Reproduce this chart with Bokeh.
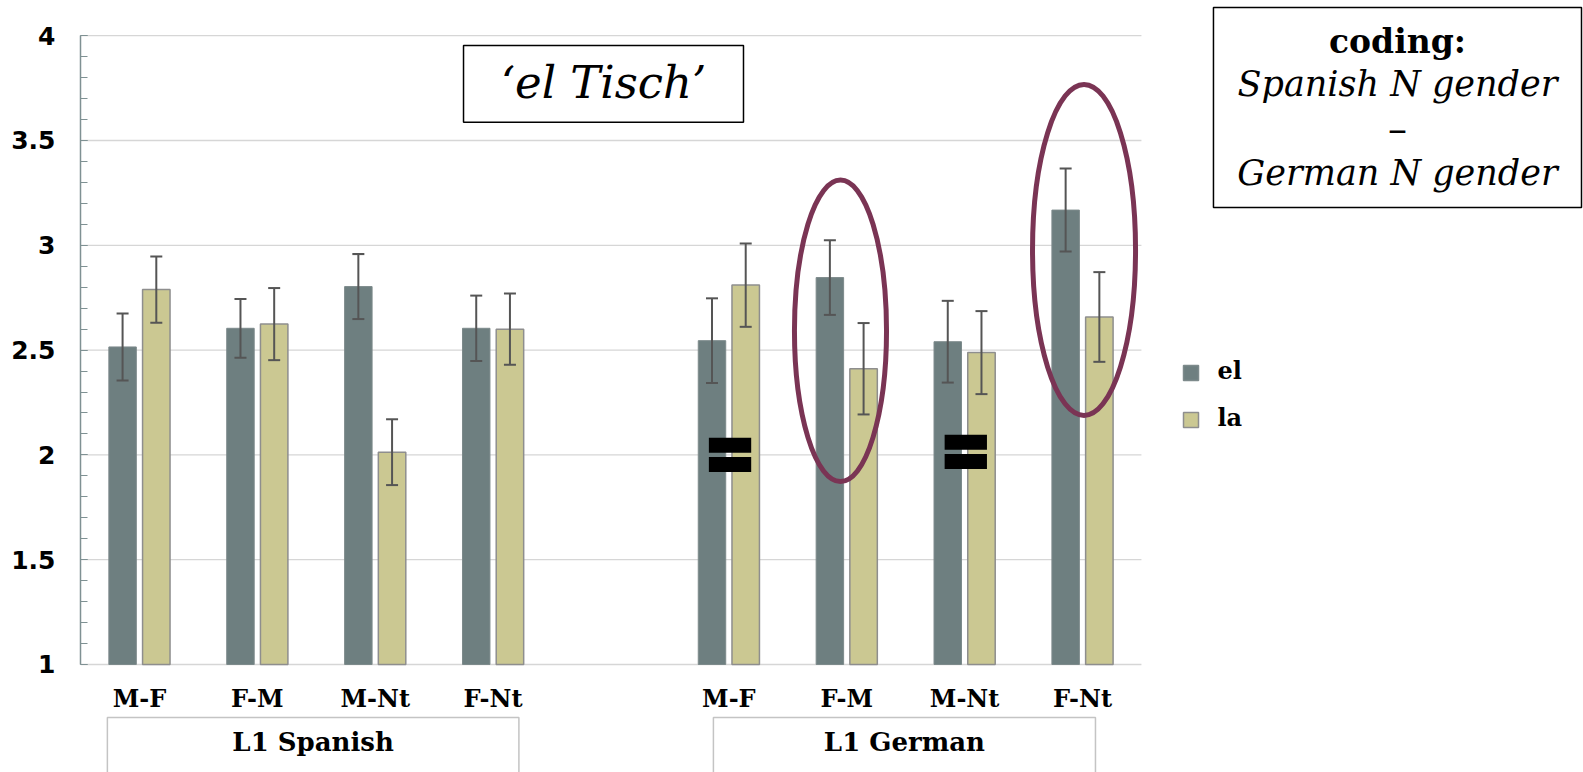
from bokeh.plotting import figure
from bokeh.models import (Range1d, SingleIntervalTicker, CustomJSTickFormatter,
                          ColumnDataSource, Whisker, TeeHead)
from bokeh.core.properties import value
from bokeh.embed import file_html
from bokeh.resources import INLINE

# ---------------- data ----------------
categories = ["M-F", "F-M", "M-Nt", "F-Nt"]
groups = ["L1 Spanish", "L1 German"]
group_start = [0, 5]          # category slot where each group starts
series = ["el", "la"]

el_means = [2.515, 2.604, 2.803, 2.604, 2.545, 2.846, 2.540, 3.168]
la_means = [2.789, 2.624, 2.013, 2.600, 2.810, 2.411, 2.488, 2.658]
el_se = [0.160, 0.140, 0.155, 0.156, 0.202, 0.178, 0.195, 0.198]
la_se = [0.158, 0.172, 0.157, 0.170, 0.199, 0.218, 0.198, 0.214]

y_min, y_max = 1, 4
title_text = "\u2018el Tisch\u2019"
coding_lines = ["coding:", "Spanish N gender", "\u2013", "German N gender"]

# "equal" marks: group index, category index, centre value
equal_marks = [(1, 0, 2.0), (1, 2, 2.014)]

# ---------------- styles ----------------
EL_COLOR = "#6e7f80"
LA_COLOR = "#cbc892"
ERR_COLOR = "#555555"
AXIS_COLOR = "#7f9193"
GRID_COLOR = "#d6d6d6"
CIRCLE_COLOR = "#7a3454"
SERIF = value("DejaVu Serif")

# positions of each bar pair (category slot centres)
pos = [g + i + 0.5 for g in group_start for i in range(len(categories))]
labels = categories * len(groups)
off = 0.143
bw = 0.233

p = figure(width=1583, height=772,
           x_range=Range1d(0, 12.750), y_range=Range1d(0.48473, 4.1679),
           x_axis_location=None, y_axis_location="left",
           output_backend="svg", toolbar_location=None,
           min_border_left=80, min_border_right=0, min_border_top=0, min_border_bottom=0)
p.outline_line_color = None
p.xgrid.visible = False
p.ygrid.visible = False
p.background_fill_color = "white"
p.border_fill_color = "white"

# y axis
yax = p.yaxis[0]
yax.ticker = SingleIntervalTicker(interval=0.5, num_minor_ticks=5)
yax.bounds = (y_min, y_max)
yax.formatter = CustomJSTickFormatter(code="return String(Math.round(tick*10)/10)")
yax.axis_line_color = AXIS_COLOR
yax.axis_line_width = 1.5
yax.major_tick_line_color = AXIS_COLOR
yax.minor_tick_line_color = AXIS_COLOR
yax.major_tick_in = 7
yax.major_tick_out = 0
yax.minor_tick_in = 7
yax.minor_tick_out = 0
yax.major_label_standoff = 25
yax.major_label_text_font = "DejaVu Sans"
yax.major_label_text_font_style = "bold"
yax.major_label_text_font_size = "25px"
yax.major_label_text_color = "black"

# horizontal gridlines (only over the chart area)
grid_vals = [y_min + 0.5 * k for k in range(int((y_max - y_min) / 0.5) + 1)]
n_slots = group_start[-1] + len(categories)
p.segment(x0=[0] * len(grid_vals), x1=[n_slots] * len(grid_vals), y0=grid_vals, y1=grid_vals,
          line_color=GRID_COLOR, line_width=1.3)

# bars
el_x = [x - off for x in pos]
la_x = [x + off for x in pos]
p.vbar(x=el_x, top=el_means, bottom=y_min, width=bw, fill_color=EL_COLOR,
       line_color="#7d8a8b", line_width=1)
p.vbar(x=la_x, top=la_means, bottom=y_min, width=bw, fill_color=LA_COLOR,
       line_color="#8e8e8e", line_width=1.5)

# error bars
for xs, m, se in [(el_x, el_means, el_se), (la_x, la_means, la_se)]:
    src = ColumnDataSource(dict(x=xs, upper=[a + b for a, b in zip(m, se)],
                                lower=[a - b for a, b in zip(m, se)]))
    w = Whisker(source=src, base="x", upper="upper", lower="lower",
                line_color=ERR_COLOR, line_width=2, level="annotation",
                upper_head=TeeHead(size=12, line_color=ERR_COLOR, line_width=2),
                lower_head=TeeHead(size=12, line_color=ERR_COLOR, line_width=2))
    p.add_layout(w)

# equal marks (two black bars each)
eq_x, eq_y = [], []
for gi, ci, cv in equal_marks:
    c = group_start[gi] + ci + 0.5
    for dy in (0.046, -0.046):
        eq_x.append(c + 0.01)
        eq_y.append(cv + dy)
p.rect(x=eq_x, y=eq_y, width=0.359, height=0.0716, fill_color="black", line_color=None)

# circled pairs
ell_x = [6.447, 8.513]
ell_y = [2.592, 2.978]
ell_w = [0.781, 0.874]
ell_h = [1.438, 1.579]
p.ellipse(x=ell_x, y=ell_y, width=ell_w, height=ell_h, fill_color=None,
          line_color=CIRCLE_COLOR, line_width=5, level="overlay")

# x category labels
p.text(x=pos, y=[0.838] * len(pos), text=labels, text_font=SERIF, text_font_style="bold",
       text_font_size="24px", text_align="center", text_baseline="middle", text_color="black")

# group boxes and labels
gb_left = [0.228, 5.369]
gb_right = [3.719, 8.610]
gb_top = 0.7471
gb_bot = 0.30
p.quad(left=gb_left, right=gb_right, top=[gb_top] * 2, bottom=[gb_bot] * 2,
       fill_color=None, line_color="#c4c4c4", line_width=1.5)
p.text(x=[(a + b) / 2 for a, b in zip(gb_left, gb_right)], y=[0.628] * 2, text=groups,
       text_font=SERIF, text_font_style="bold", text_font_size="26px",
       text_align="center", text_baseline="middle", text_color="black")

# title box
p.rect(x=[4.4367], y=[3.7703], width=[2.375], height=[0.366], fill_color=None,
       line_color="black", line_width=1.5)
p.text(x=[4.4367], y=[3.775], text=[title_text], text_font=SERIF, text_font_style="italic",
       text_font_size="45px", text_align="center", text_baseline="middle", text_color="black")

# coding box
cx = 11.172
p.rect(x=[cx], y=[3.6575], width=[3.122], height=[0.9542], fill_color=None,
       line_color="black", line_width=1.5)
p.text(x=[cx], y=[3.972], text=[coding_lines[0]], text_font=SERIF, text_font_style="bold",
       text_font_size="33px", text_align="center", text_baseline="middle", text_color="black")
p.text(x=[cx, cx], y=[3.768, 3.343], text=[coding_lines[1], coding_lines[3]], text_font=SERIF,
       text_font_style="italic", text_font_size="35px", text_align="center",
       text_baseline="middle", text_color="black")
p.text(x=[cx], y=[3.553], text=[coding_lines[2]], text_font=SERIF,
       text_font_style="normal", text_font_size="38px", text_align="center",
       text_baseline="middle", text_color="black")

# legend (manual)
leg_y = [2.3907, 2.1665]
p.scatter(x=[9.4205] * 2, y=leg_y, marker="square", size=15,
          fill_color=[EL_COLOR, LA_COLOR], line_color=["#7d8a8b", "#8e8e8e"], line_width=1.5)
p.text(x=[9.645] * 2, y=[v + 0.01 for v in leg_y], text=series, text_font=SERIF,
       text_font_style="bold", text_font_size="24px", text_align="left",
       text_baseline="middle", text_color="black")

open("out.html", "w").write(file_html(p, INLINE))
